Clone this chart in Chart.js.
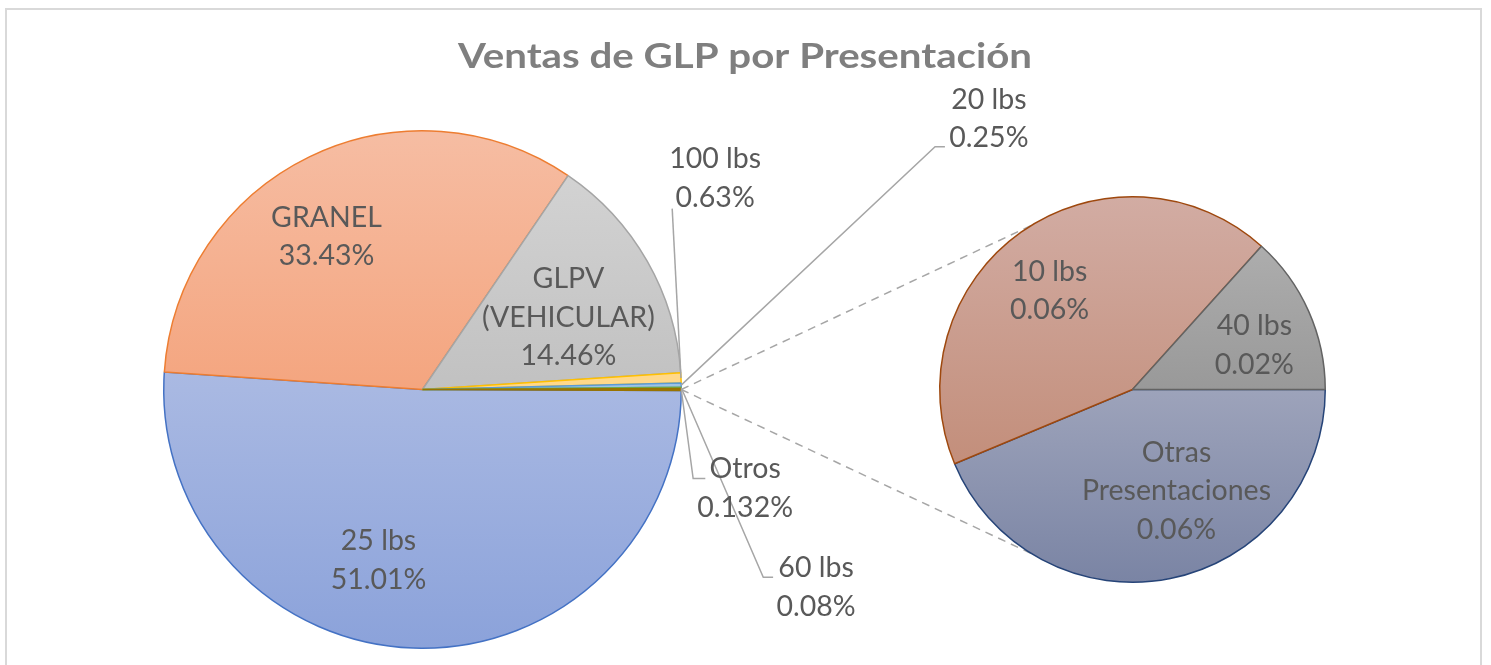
<!DOCTYPE html>
<html>
<head>
<meta charset="utf-8">
<script src="https://cdn.jsdelivr.net/npm/chart.js@4.4.1/dist/chart.umd.min.js"></script>
<style>
  html, body { margin: 0; padding: 0; background: #fff; overflow: hidden; }
  #wrap { position: relative; width: 1491px; height: 665px; }
  #frame { position: absolute; left: 5px; top: 8px; width: 1477px; height: 700px; border: 2px solid #d9d9d9; box-sizing: border-box; }
  canvas { position: absolute; left: 0; top: 0; }
</style>
</head>
<body>
<div id="wrap">
  <div id="frame"></div>
  <canvas id="main" width="1491" height="665"></canvas>
  <canvas id="sub" width="1491" height="665"></canvas>
</div>
<script>
// ---------------- data ----------------
const chartTitle = 'Ventas de GLP por Presentación';

const mainCategories = ['25 lbs', 'GRANEL', 'GLPV (VEHICULAR)', '100 lbs', '20 lbs', '60 lbs', 'Otros'];
const mainValues     = [51.01, 33.43, 14.46, 0.63, 0.25, 0.08, 0.132];
const mainPctText    = ['51.01%', '33.43%', '14.46%', '0.63%', '0.25%', '0.08%', '0.132%'];

const subCategories  = ['Otras Presentaciones', '10 lbs', '40 lbs'];
const subValues      = [0.0577, 0.0567, 0.0176];
const subPctText     = ['0.06%', '0.06%', '0.02%'];

// ---------------- styles / layout ----------------
const FONT = 'Lato, "Open Sans", sans-serif';
const LABEL_SIZE = 28.5;
const LINE_H = 38.5;
const LABEL_COLOR = '#595959';
const LEADER_COLOR = '#a6a6a6';
const TITLE_WIDTH = 574;

const mainFill = [
  ['#c5ceea', '#8ba2da'],
  ['#f6bda3', '#f28d5b'],
  ['#d6d6d6', '#acacac'],
  ['#ffd88a', '#ffd88a'],
  ['#9dc3e6', '#9dc3e6'],
  ['#a9d18e', '#a9d18e'],
  ['#9e7a06', '#9e7a06']
];
const mainBorder = ['#4472c4', '#ed7d31', '#a5a5a5', '#ffc000', '#5b9bd5', '#70ad47', '#997300'];

const subFill = [
  ['#c0c2d1', '#7a84a4'],
  ['#d2aca3', '#bc8169'],
  ['#b4b4b4', '#7e7e7e']
];
const subBorder = ['#264478', '#9e480e', '#636363'];

// label block centres in units of the pie radius, relative to the pie centre
const mainLabelLayout = [
  { c: [-0.170, 0.660], lines: null, wrap: false },
  { c: [-0.371, -0.591], lines: null, wrap: false },
  { c: [0.564, -0.278], lines: null, wrap: true },
  { c: [1.131, -0.817], lines: [[0.965, -0.699]] },
  { c: [2.189, -1.046], lines: [[1.981, -0.938], [2.019, -0.938]] },
  { c: [1.521, 0.764], lines: [[1.317, 0.726], [1.355, 0.726]] },
  { c: [1.247, 0.382], lines: [[1.046, 0.344], [1.093, 0.344]] }
];
const subLabelLayout = [
  { c: [0.228, 0.528], wrap: true },
  { c: [-0.430, -0.513], wrap: false },
  { c: [0.632, -0.228], wrap: false }
];

function gradientFill(palette) {
  return function (ctx) {
    const stops = palette[ctx.dataIndex] || palette[0];
    const chart = ctx.chart;
    const a = chart.chartArea;
    if (!a) return stops[0];
    const g = chart.ctx.createLinearGradient(0, a.top, 0, a.bottom);
    g.addColorStop(0, stops[0]);
    g.addColorStop(1, stops[1]);
    return g;
  };
}

function drawBlock(ctx, lines, cx, cy) {
  ctx.save();
  ctx.font = LABEL_SIZE + 'px ' + FONT;
  ctx.fillStyle = LABEL_COLOR;
  ctx.textAlign = 'center';
  ctx.textBaseline = 'middle';
  const n = lines.length;
  lines.forEach((t, i) => ctx.fillText(t, cx, cy + (i - (n - 1) / 2) * LINE_H));
  ctx.restore();
}

const mainLabelsPlugin = {
  id: 'mainLabels',
  afterDatasetsDraw(chart) {
    const ctx = chart.ctx;
    const arcs = chart.getDatasetMeta(0).data;
    const cx = arcs[0].x, cy = arcs[0].y, R = arcs[0].outerRadius;
    // title
    ctx.save();
    ctx.font = 'bold 34px ' + FONT;
    ctx.fillStyle = '#7f7f7f';
    ctx.textAlign = 'center';
    ctx.textBaseline = 'middle';
    const w = ctx.measureText(chartTitle).width;
    ctx.translate(745, 57);
    ctx.scale(TITLE_WIDTH / w, 1);
    ctx.fillText(chartTitle, 0, 0);
    ctx.restore();
    arcs.forEach((arc, i) => {
      const lay = mainLabelLayout[i];
      const name = mainCategories[i];
      const textLines = (lay.wrap ? name.split(' ') : [name]).concat([mainPctText[i]]);
      if (lay.lines) {
        const mid = (arc.startAngle + arc.endAngle) / 2;
        ctx.save();
        ctx.strokeStyle = LEADER_COLOR;
        ctx.lineWidth = 1.5;
        ctx.beginPath();
        ctx.moveTo(cx + Math.cos(mid) * R, cy + Math.sin(mid) * R);
        lay.lines.forEach(p => ctx.lineTo(cx + p[0] * R, cy + p[1] * R));
        ctx.stroke();
        ctx.restore();
      }
      drawBlock(ctx, textLines, cx + lay.c[0] * R, cy + lay.c[1] * R);
    });
  }
};

const mainChart = new Chart(document.getElementById('main'), {
  type: 'pie',
  data: {
    labels: mainCategories,
    datasets: [{
      data: mainValues,
      backgroundColor: gradientFill(mainFill),
      borderColor: mainBorder,
      borderWidth: 1.5,
      hoverOffset: 0
    }]
  },
  options: {
    responsive: false,
    animation: false,
    rotation: 90 + (mainValues[6] / mainValues.reduce((a, b) => a + b, 0)) * 180,
    layout: { padding: { left: 163, right: 809, top: 130, bottom: 16 } },
    plugins: { legend: { display: false }, tooltip: { enabled: false }, title: { display: false } }
  },
  plugins: [mainLabelsPlugin]
});

const subPlugin = {
  id: 'subLabels',
  beforeDatasetsDraw(chart) {
    const ctx = chart.ctx;
    const marc = mainChart.getDatasetMeta(0).data[6];
    const mid = (marc.startAngle + marc.endAngle) / 2;
    const sx = marc.x + Math.cos(mid) * marc.outerRadius;
    const sy = marc.y + Math.sin(mid) * marc.outerRadius;
    const a0 = chart.getDatasetMeta(0).data[0];
    const r = a0.outerRadius;
    const ang = 58.4 * Math.PI / 180;
    ctx.save();
    ctx.strokeStyle = LEADER_COLOR;
    ctx.lineWidth = 1.5;
    ctx.setLineDash([8, 6]);
    [-1, 1].forEach(s => {
      ctx.beginPath();
      ctx.moveTo(sx, sy);
      ctx.lineTo(a0.x - Math.cos(ang) * r, a0.y + s * Math.sin(ang) * r);
      ctx.stroke();
    });
    ctx.restore();
  },
  afterDatasetsDraw(chart) {
    const ctx = chart.ctx;
    const arcs = chart.getDatasetMeta(0).data;
    const cx = arcs[0].x, cy = arcs[0].y, R = arcs[0].outerRadius;
    arcs.forEach((arc, i) => {
      const lay = subLabelLayout[i];
      const name = subCategories[i];
      const textLines = (lay.wrap ? name.split(' ') : [name]).concat([subPctText[i]]);
      drawBlock(ctx, textLines, cx + lay.c[0] * R, cy + lay.c[1] * R);
    });
  }
};

new Chart(document.getElementById('sub'), {
  type: 'pie',
  data: {
    labels: subCategories,
    datasets: [{
      data: subValues,
      backgroundColor: gradientFill(subFill),
      borderColor: subBorder,
      borderWidth: 1.5,
      hoverOffset: 0
    }]
  },
  options: {
    responsive: false,
    animation: false,
    rotation: 90,
    layout: { padding: { left: 939, right: 165, top: 196, bottom: 82 } },
    plugins: { legend: { display: false }, tooltip: { enabled: false }, title: { display: false } }
  },
  plugins: [subPlugin]
});
</script>
</body>
</html>
